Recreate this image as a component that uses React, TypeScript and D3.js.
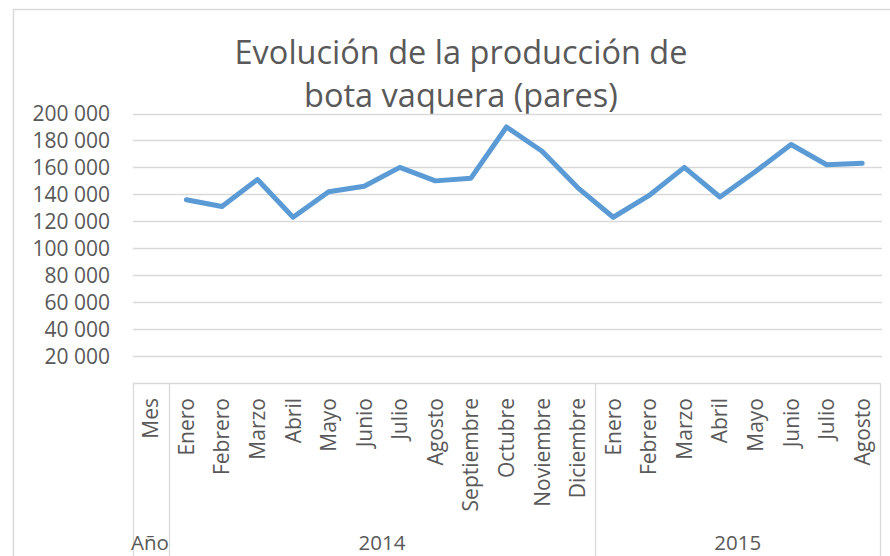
import React from 'react';
import * as d3 from 'd3';

const months2014 = ['Enero', 'Febrero', 'Marzo', 'Abril', 'Mayo', 'Junio', 'Julio', 'Agosto', 'Septiembre', 'Octubre', 'Noviembre', 'Diciembre'];
const months2015 = ['Enero', 'Febrero', 'Marzo', 'Abril', 'Mayo', 'Junio', 'Julio', 'Agosto'];
const values2014 = [136000, 131000, 151000, 123000, 142000, 146000, 160000, 150000, 152000, 190000, 172000, 145000];
const values2015 = [123000, 139000, 160000, 138000, 157000, 177000, 162000, 163000];
const yTicks = [20000, 40000, 60000, 80000, 100000, 120000, 140000, 160000, 180000, 200000];
const years = [{ label: '2014', months: months2014 }, { label: '2015', months: months2015 }];
const titleLines = ['Evolución de la producción de', 'bota vaquera (pares)'];

const font = '"Open Sans", sans-serif';
const textColor = '#595959';
const gridColor = '#d9d9d9';
const lineColor = '#5b9bd5';

const fmt = d3.formatLocale({ decimal: ',', thousands: ' ', grouping: [3], currency: ['', ''] }).format(',');

const App = () => {
  const width = 890;
  const height = 556;

  // first slot is the "Mes / Año" header column
  const data = [
    ...months2014.map((m, i) => ({ key: '2014-' + m, month: m, value: values2014[i] })),
    ...months2015.map((m, i) => ({ key: '2015-' + m, month: m, value: values2015[i] })),
  ];
  const keys = ['header', ...data.map(d => d.key)];

  const x = d3.scaleBand().domain(keys).range([133, 880]);
  const y = d3.scaleLinear().domain([0, 200000]).range([383, 113.5]);

  const line = d3.line<{ key: string; value: number }>()
    .x(d => (x(d.key) as number) + x.bandwidth() / 2)
    .y(d => y(d.value));

  // boundaries of the year groups
  let offset = 1;
  const groups = years.map(g => {
    const start = x(keys[offset]) as number;
    const end = start + g.months.length * x.bandwidth();
    offset += g.months.length;
    return { ...g, start, end };
  });

  const labelTop = 398;

  return (
    <div style={{ position: 'absolute', left: 0, top: 0 }}>
      <svg width={width} height={height} style={{ display: 'block', background: '#fff' }}>
        <rect x={13.5} y={9.5} width={width + 20} height={height + 20} fill="#fff" stroke={gridColor} strokeWidth={1.5} />

        {titleLines.map((t, i) => (
          <text key={t} x={461} y={64 + i * 43} textAnchor="middle" fontFamily={font} fontSize={32.5} fill={textColor}>{t}</text>
        ))}

        {yTicks.map(t => (
          <g key={t}>
            <line x1={133} x2={882} y1={Math.round(y(t)) + 0.5} y2={Math.round(y(t)) + 0.5} stroke={gridColor} strokeWidth={1.3} />
            <text x={110} y={y(t)} dy="0.36em" textAnchor="end" fontFamily={font} fontSize={21} fill={textColor}>{fmt(t)}</text>
          </g>
        ))}

        {/* category table */}
        <line x1={133} x2={880} y1={383.5} y2={383.5} stroke={gridColor} strokeWidth={1.3} />
        {[133, x(keys[1]) as number, ...groups.map(g => g.end)].map((v, i) => (
          <line key={i} x1={Math.round(v) + 0.5} x2={Math.round(v) + 0.5} y1={383} y2={height} stroke={gridColor} strokeWidth={1.3} />
        ))}

        <text transform={`translate(${(x('header') as number) + x.bandwidth() / 2},${labelTop}) rotate(-90)`} dy="0.36em" textAnchor="end" fontFamily={font} fontSize={21} fill={textColor}>Mes</text>
        {data.map(d => (
          <text key={d.key} transform={`translate(${(x(d.key) as number) + x.bandwidth() / 2},${labelTop}) rotate(-90)`} dy="0.36em" textAnchor="end" fontFamily={font} fontSize={21} fill={textColor}>{d.month}</text>
        ))}

        <text x={131} y={550} fontFamily={font} fontSize={20.5} fill={textColor}>Año</text>
        {groups.map(g => (
          <text key={g.label} x={(g.start + g.end) / 2} y={550} textAnchor="middle" fontFamily={font} fontSize={20.5} fill={textColor}>{g.label}</text>
        ))}

        <path d={line(data) || ''} fill="none" stroke={lineColor} strokeWidth={5} strokeLinejoin="round" strokeLinecap="round" />
      </svg>
    </div>
  );
};

export default App;
